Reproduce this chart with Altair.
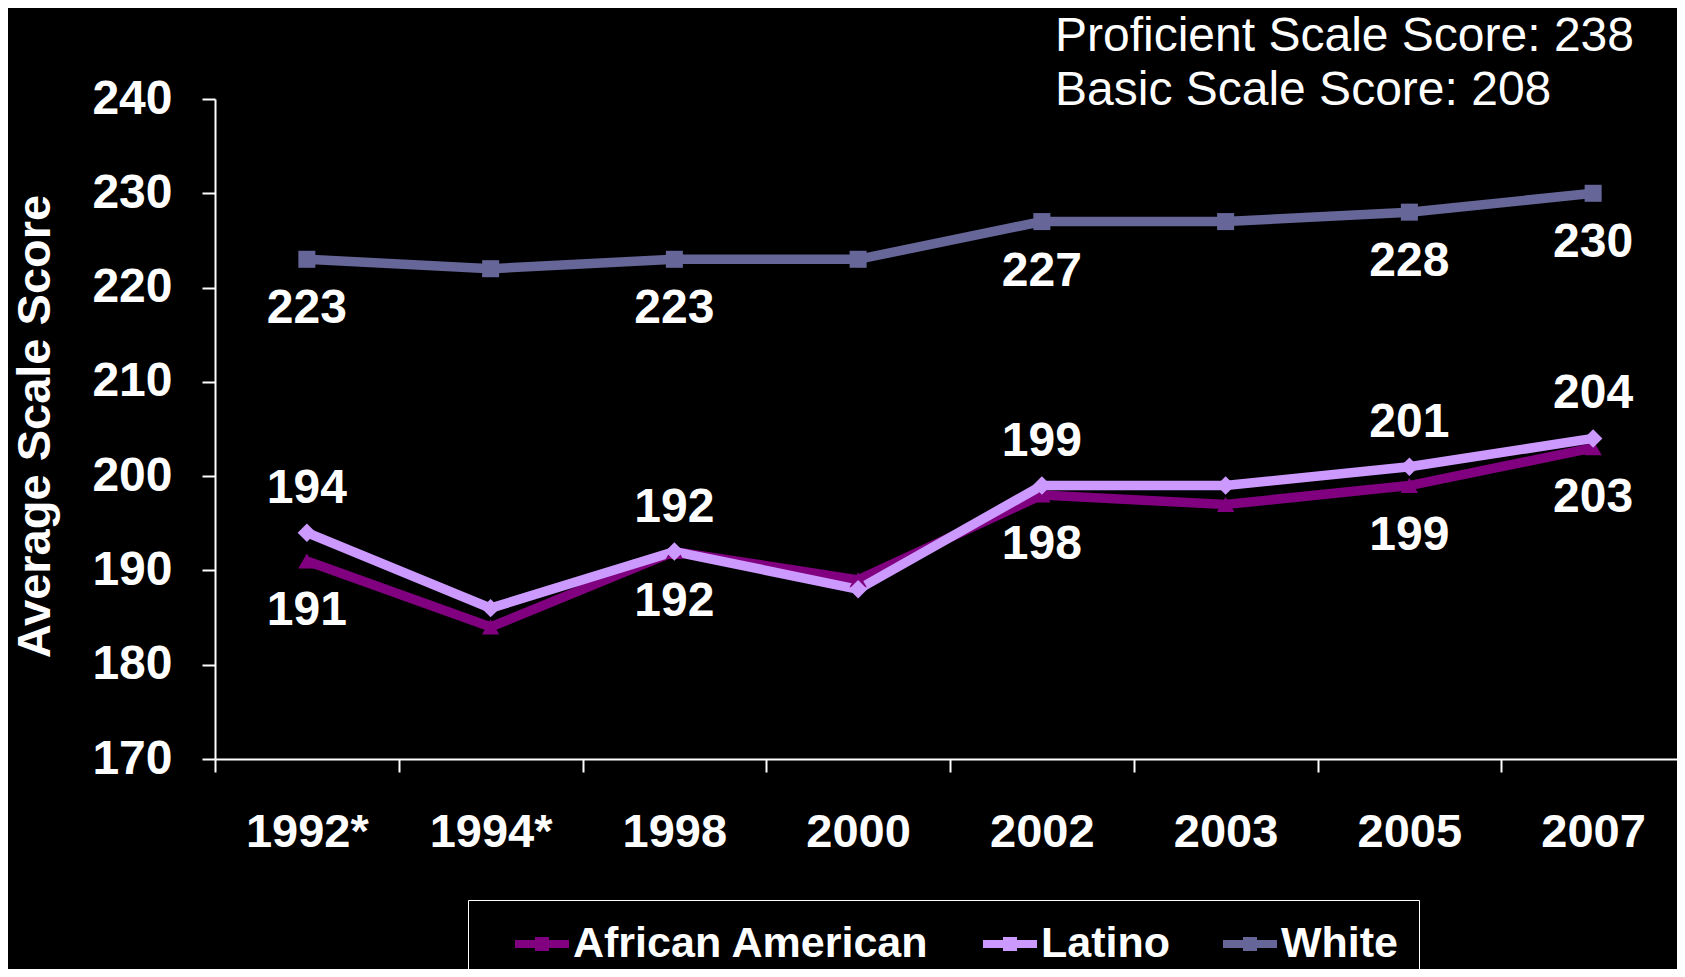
import altair as alt
import pandas as pd

# ---- data ----
years = ["1992*", "1994*", "1998", "2000", "2002", "2003", "2005", "2007"]
series_names = ["African American", "Latino", "White"]
african_american = [191, 184, 192, 189, 198, 197, 199, 203]
latino = [194, 186, 192, 188, 199, 199, 201, 204]
white = [223, 222, 223, 223, 227, 227, 228, 230]
aa_label_pos = ["below", "", "below", "", "below", "", "below", "below"]
latino_label_pos = ["above", "", "above", "", "above", "", "above", "above"]
white_label_pos = ["below", "", "below", "", "below", "", "below", "below"]
series_colors = ["#800080", "#CC99FF", "#666699"]
series_shapes = ["triangle-up", "diamond", "square"]
series_sizes = [300, 340, 290]
y_ticks = [170, 180, 190, 200, 210, 220, 230, 240]
proficient_score = 238
basic_score = 208

rows = []
for name, vals, pos in [(series_names[0], african_american, aa_label_pos),
                        (series_names[1], latino, latino_label_pos),
                        (series_names[2], white, white_label_pos)]:
    for yr, v, p in zip(years, vals, pos):
        rows.append({"year": yr, "series": name, "score": v, "label": p})
df = pd.DataFrame(rows)

FONT = "Liberation Sans"

x_enc = alt.X(
    "year:N",
    bandPosition=0.5,
    scale=alt.Scale(type="band", domain=years, range=[0, 1470], paddingInner=0, paddingOuter=0),
    axis=alt.Axis(title=None, labelAngle=0, tickBand="extent", tickSize=13, tickWidth=2,
                  tickColor="white", domainColor="white", domainWidth=2, labelColor="white",
                  labelFont=FONT, labelFontWeight="bold", labelFontSize=47, labelPadding=37,
                  grid=False),
)
y_enc = alt.Y(
    "score:Q",
    scale=alt.Scale(domain=[170, 240], nice=False, zero=False),
    axis=alt.Axis(values=y_ticks, title="Average Scale Score", titleColor="white",
                  titleFont=FONT, titleFontWeight="bold", titleFontSize=47, titleAngle=270,
                  titleX=-180, titleY=327, titleAlign="center", titleBaseline="middle",
                  labelColor="white", labelFont=FONT, labelFontWeight="bold", labelFontSize=48,
                  labelPadding=30, tickSize=13, tickWidth=2, tickColor="white",
                  domainColor="white", domainWidth=2, grid=False),
)

legend_symbol = "M0.15,0 L2.85,0 M1.35,-0.15 L1.65,-0.15 L1.65,0.15 L1.35,0.15 Z"

color_legend = alt.Legend(
    title=None, orient="none", legendX=253, legendY=801, direction="horizontal",
    strokeColor="white", fillColor="black", padding=20, columnPadding=26,
    labelFont=FONT, labelFontWeight="bold", labelFontSize=43, labelColor="white",
    labelOffset=37, labelLimit=1000, symbolType=legend_symbol, symbolSize=1600,
    symbolStrokeWidth=8, symbolOpacity=1,
)

lines = alt.Chart(df).mark_line(strokeWidth=9.5).encode(
    x=x_enc, y=y_enc,
    color=alt.Color("series:N", scale=alt.Scale(domain=series_names, range=series_colors),
                    legend=color_legend),
)

# one marker layer per series (fixed shape and colour, positions from the scales)
marker_layers = []
for name, col, shp, sz in zip(series_names, series_colors, series_shapes, series_sizes):
    marker_layers.append(
        alt.Chart(df).transform_filter(alt.datum.series == name).mark_point(
            filled=True, opacity=1, strokeWidth=0, shape=shp, size=sz, fill=col
        ).encode(x=x_enc, y=y_enc)
    )

text_style = dict(baseline="middle", align="center", font=FONT, fontWeight="bold",
                  fontSize=48, color="white")

below = alt.Chart(df).transform_filter(alt.datum.label == "below").mark_text(
    dy=50, **text_style).encode(x=x_enc, y=y_enc, text="score:Q")
above = alt.Chart(df).transform_filter(alt.datum.label == "above").mark_text(
    dy=-44, **text_style).encode(x=x_enc, y=y_enc, text="score:Q")

ann1 = alt.Chart(pd.DataFrame({"t": [f"Proficient Scale Score: {proficient_score}"]})).mark_text(
    align="left", baseline="alphabetic", font=FONT, fontSize=48, color="white"
).encode(x=alt.value(840), y=alt.value(-48), text="t:N")
ann2 = alt.Chart(pd.DataFrame({"t": [f"Basic Scale Score: {basic_score}"]})).mark_text(
    align="left", baseline="alphabetic", font=FONT, fontSize=48, color="white"
).encode(x=alt.value(840), y=alt.value(6), text="t:N")

chart = alt.layer(lines, *marker_layers, below, above, ann1, ann2).properties(
    width=1462, height=660,
    padding={"left": 207, "top": 91, "right": 0, "bottom": 210},
    autosize=alt.AutoSizeParams(type="none"),
).configure(background="black").configure_view(stroke=None)

chart.save("out.html", embed_options={"renderer": "svg", "actions": False})
